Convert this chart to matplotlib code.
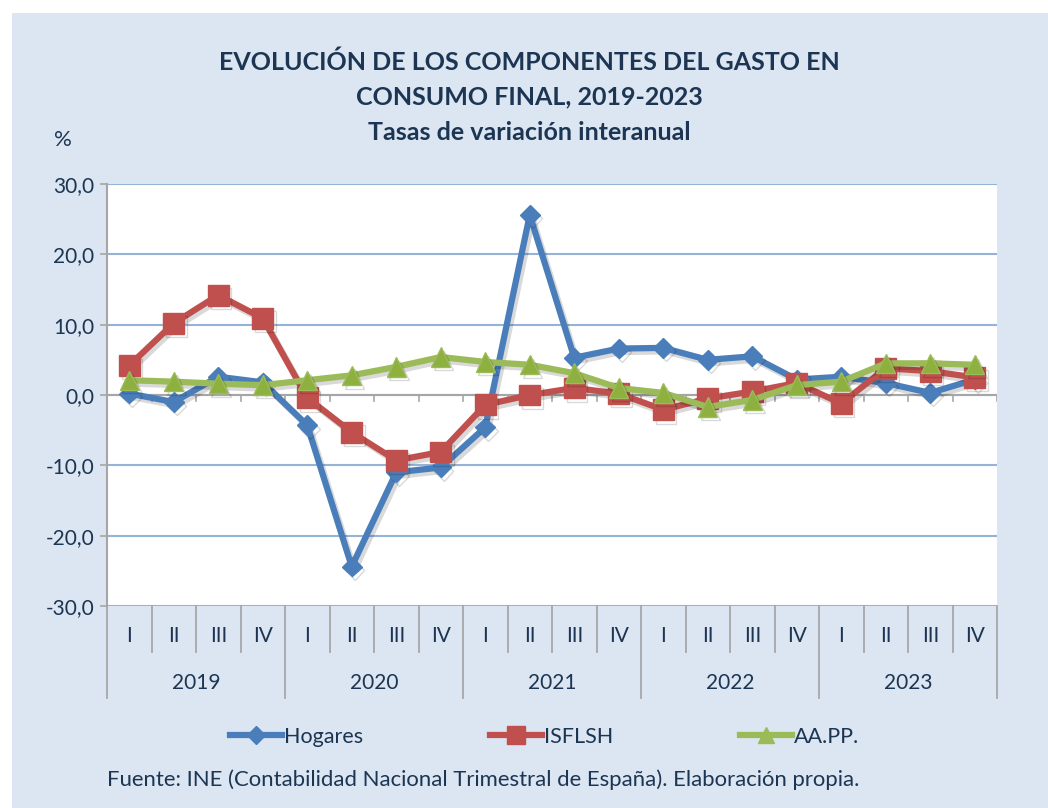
import matplotlib
matplotlib.use("Agg")
import matplotlib.pyplot as plt
import matplotlib.patheffects as pe
from matplotlib.patches import Rectangle
from matplotlib.lines import Line2D
import numpy as np

# ── data ─────────────────────────────────────────────
years = ["2019", "2020", "2021", "2022", "2023"]
quarters = ["I", "II", "III", "IV"]

hogares = [0.2, -1.0, 2.6, 1.8, -4.3, -24.4, -11.0, -10.3,
           -4.6, 25.6, 5.3, 6.6, 6.7, 5.0, 5.5, 2.2,
           2.6, 1.7, 0.3, 2.2]
isflsh = [4.2, 10.2, 14.2, 10.9, -0.4, -5.3, -9.3, -8.1,
          -1.4, 0.0, 1.0, 0.2, -2.1, -0.5, 0.5, 1.7,
          -1.2, 3.8, 3.4, 2.5]
aapp = [2.1, 1.9, 1.6, 1.4, 2.1, 2.8, 4.0, 5.4,
        4.7, 4.3, 3.1, 1.0, 0.3, -1.7, -0.7, 1.4,
        1.9, 4.5, 4.5, 4.3]

BG = "#DCE6F2"
NAVY = "#1B3553"
BLUE = "#4A7EBB"
RED = "#C0504D"
GREEN = "#9BBB59"
GRID = "#95B3D7"
AXIS = "#A6A6A6"

plt.rcParams["font.family"] = ["Lato", "DejaVu Sans"]

fig = plt.figure(figsize=(10.48, 8.08), dpi=100)
fig.patch.set_facecolor("white")
fig.patches.append(Rectangle((12 / 1048, 0), 1 - 12 / 1048, 1 - 13 / 808,
                             transform=fig.transFigure, facecolor=BG,
                             edgecolor="none", zorder=-10))

ax = fig.add_axes([107 / 1048, 1 - 606 / 808, 890 / 1048, 422 / 808])
ax.set_facecolor("white")
n = len(hogares)
x = np.arange(n)
ax.set_xlim(-0.5, n - 0.5)
ax.set_ylim(-30, 30)
ax.set_yticks(np.arange(-30, 31, 10))
ax.set_yticklabels([f"{v:.1f}".replace(".", ",") for v in np.arange(-30, 31, 10)],
                   fontsize=15, color=NAVY)
ax.yaxis.grid(True, color=GRID, linewidth=1.5)
ax.set_axisbelow(True)
for s in ["top", "right", "bottom"]:
    ax.spines[s].set_visible(False)
ax.spines["left"].set_color(AXIS)
ax.spines["left"].set_linewidth(1.5)
ax.tick_params(axis="y", length=5, color=AXIS, width=1.2, pad=4)
ax.set_xticks([])

# zero axis with ticks
ax.axhline(0, color=AXIS, lw=1.5, zorder=1)
for k in range(n + 1):
    ax.plot([k - 0.5, k - 0.5], [0, -0.9], color=AXIS, lw=1.2, zorder=1)

shadow = [pe.SimpleLineShadow(offset=(2, -2.5), alpha=0.15, shadow_color="black"),
          pe.Normal()]

ax.plot(x, hogares, color=BLUE, lw=4.5, marker="D", markersize=10,
        markerfacecolor=BLUE, markeredgecolor=BLUE, zorder=3,
        path_effects=shadow, label="Hogares")
ax.plot(x, isflsh, color=RED, lw=4.5, marker="s", markersize=15,
        markerfacecolor=RED, markeredgecolor=RED, zorder=4,
        path_effects=shadow, label="ISFLSH")
ax.plot(x, aapp, color=GREEN, lw=4.5, marker="^", markersize=14,
        markerfacecolor="#8DB03F", markeredgecolor=GREEN, zorder=5,
        path_effects=shadow, label="AA.PP.")

# ── two-level category axis ──────────────────────────
trans = ax.get_xaxis_transform()
q_bottom = -(652 - 606) / 422
y_bottom = -(698 - 606) / 422
for k in range(n + 1):
    low = y_bottom if k % 4 == 0 else q_bottom
    ax.plot([k - 0.5, k - 0.5], [0, low], transform=trans, color=AXIS,
            lw=1.3, clip_on=False)
for k in range(n):
    ax.text(k, -(636 - 606) / 422, quarters[k % 4], transform=trans,
            ha="center", va="center", fontsize=15, color=NAVY)
for j, yr in enumerate(years):
    ax.text(j * 4 + 1.5, -(683 - 606) / 422, yr, transform=trans,
            ha="center", va="center", fontsize=15, color=NAVY)

# ── titles ──────────────────────────────────────────
fig.text(0.505, 1 - 62 / 808, "EVOLUCIÓN DE LOS COMPONENTES DEL GASTO EN",
         ha="center", va="center", fontsize=18, fontweight="bold", color=NAVY)
fig.text(0.505, 1 - 97 / 808, "CONSUMO FINAL, 2019-2023",
         ha="center", va="center", fontsize=18, fontweight="bold", color=NAVY)
fig.text(0.505, 1 - 132 / 808, "Tasas de variación interanual",
         ha="center", va="center", fontsize=18, fontweight="bold", color=NAVY)
fig.text(63 / 1048, 1 - 140 / 808, "%", ha="center", va="center",
         fontsize=16, color=NAVY)

# ── legend ──────────────────────────────────────────
handles = [
    Line2D([0], [0], color=BLUE, lw=4.5, marker="D", markersize=9),
    Line2D([0], [0], color=RED, lw=4.5, marker="s", markersize=13),
    Line2D([0], [0], color=GREEN, lw=4.5, marker="^", markersize=12),
]
fig.legend(handles, ["Hogares", "ISFLSH", "AA.PP."], loc="center",
           bbox_to_anchor=(0.520, 1 - 737 / 808), ncol=3, frameon=False,
           fontsize=15.5, labelcolor=NAVY, handlelength=2.4, handletextpad=0.1,
           columnspacing=5.9)

fig.text(107 / 1048, 1 - 780 / 808,
         "Fuente: INE (Contabilidad Nacional Trimestral de España). Elaboración propia.",
         ha="left", va="center", fontsize=15.9, color=NAVY)

fig.savefig("out.png", dpi=100, facecolor=fig.get_facecolor())
